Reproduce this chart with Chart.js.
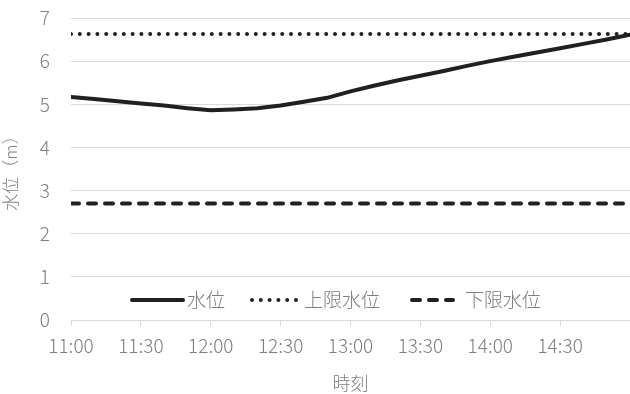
<!DOCTYPE html>
<html>
<head>
<meta charset="utf-8">
<script src="https://cdn.jsdelivr.net/npm/chart.js@4"></script>
<style>
  html, body { margin: 0; padding: 0; background: #fff; }
  #wrap { width: 630px; height: 394px; }
</style>
</head>
<body>
<div id="wrap"><canvas id="levelChart" width="630" height="394"></canvas></div>
<script>
const times = ['11:00', '11:10', '11:20', '11:30', '11:40', '11:50', '12:00', '12:10', '12:20',
  '12:30', '12:40', '12:50', '13:00', '13:10', '13:20', '13:30', '13:40', '13:50',
  '14:00', '14:10', '14:20', '14:30', '14:40', '14:50', '15:00'];
const waterLevel = [5.17, 5.12, 5.07, 5.02, 4.97, 4.91, 4.86, 4.88, 4.91,
  4.97, 5.06, 5.15, 5.30, 5.43, 5.55, 5.66, 5.77, 5.89,
  6.00, 6.10, 6.20, 6.30, 6.40, 6.50, 6.61];
const upperLimit = 6.63;
const lowerLimit = 2.7;
const seriesNames = ['水位', '上限水位', '下限水位'];
const yTicks = [0, 1, 2, 3, 4, 5, 6, 7];

const FONT = "'Noto Sans CJK JP', 'Noto Sans', sans-serif";
const TEXT = '#7f7f7f';
const GRID = '#d9d9d9';

const toMin = t => {
  const [h, m] = t.split(':').map(Number);
  return (h - 11) * 60 + m;
};
const toLabel = v => {
  const h = 11 + Math.floor(v / 60);
  const m = v % 60;
  return h + ':' + String(m).padStart(2, '0');
};

const xStart = toMin(times[0]);
const xEnd = toMin(times[times.length - 1]);

// legend drawn inside the plot, above the x axis
const innerLegend = {
  id: 'innerLegend',
  afterDraw(chart) {
    const ctx = chart.ctx;
    const y = 300;
    const items = [
      { ds: 0, x1: 132, x2: 183, tx: 187 },
      { ds: 1, x1: 252, x2: 298, tx: 304 },
      { ds: 2, x1: 412, x2: 453, tx: 465 }
    ];
    ctx.save();
    items.forEach(it => {
      const ds = chart.data.datasets[it.ds];
      ctx.beginPath();
      ctx.strokeStyle = ds.borderColor;
      ctx.lineWidth = ds.borderWidth;
      ctx.lineCap = ds.borderCapStyle || 'butt';
      ctx.setLineDash(ds.borderDash || []);
      ctx.moveTo(it.x1, y);
      ctx.lineTo(it.x2, y);
      ctx.stroke();
      ctx.setLineDash([]);
      ctx.fillStyle = TEXT;
      ctx.font = '300 19px ' + FONT;
      ctx.textBaseline = 'middle';
      ctx.textAlign = 'left';
      ctx.fillText(ds.label, it.tx, y);
    });
    ctx.restore();
  }
};

new Chart(document.getElementById('levelChart'), {
  type: 'line',
  data: {
    datasets: [
      {
        label: seriesNames[0],
        data: times.map((t, i) => ({ x: toMin(t), y: waterLevel[i] })),
        borderColor: '#231f20',
        borderWidth: 4,
        borderCapStyle: 'round',
        pointRadius: 0,
        tension: 0
      },
      {
        label: seriesNames[1],
        data: [{ x: xStart, y: upperLimit }, { x: xEnd, y: upperLimit }],
        borderColor: '#231f20',
        borderWidth: 4,
        borderDash: [0, 8.8],
        borderCapStyle: 'round',
        pointRadius: 0
      },
      {
        label: seriesNames[2],
        data: [{ x: xStart, y: lowerLimit }, { x: xEnd, y: lowerLimit }],
        borderColor: '#231f20',
        borderWidth: 4,
        borderDash: [8, 9],
        borderCapStyle: 'round',
        pointRadius: 0
      }
    ]
  },
  options: {
    responsive: false,
    animation: false,
    layout: { padding: { top: 18, right: 0, left: 0, bottom: 0 } },
    plugins: {
      legend: { display: false },
      tooltip: { enabled: false }
    },
    scales: {
      x: {
        type: 'linear',
        min: xStart,
        max: xEnd,
        afterFit: s => { s.height = 74; s.paddingLeft = 0; s.paddingRight = 0; },
        afterBuildTicks: s => { s.ticks = times.filter(t => toMin(t) % 30 === 0).map(t => ({ value: toMin(t) })); },
        ticks: {
          font: { family: FONT, size: 19, weight: 300 },
          color: TEXT,
          padding: 8,
          maxRotation: 0,
          callback: v => (v === xEnd ? '' : toLabel(v))
        },
        grid: { display: true, drawOnChartArea: false, color: GRID, tickLength: 6 },
        border: { color: GRID },
        title: {
          display: true,
          text: '時刻',
          font: { family: FONT, size: 18, weight: 300 },
          color: TEXT,
          padding: { top: 0, bottom: 0 }
        }
      },
      y: {
        min: yTicks[0],
        max: yTicks[yTicks.length - 1],
        afterFit: s => { s.width = 71; s.paddingTop = 0; s.paddingBottom = 0; },
        afterBuildTicks: s => { s.ticks = yTicks.map(v => ({ value: v })); },
        ticks: {
          font: { family: FONT, size: 19, weight: 300 },
          color: TEXT,
          padding: 21
        },
        grid: { color: GRID, drawTicks: false },
        border: { display: false },
        title: {
          display: true,
          text: '水位（m）',
          font: { family: FONT, size: 17, weight: 300 },
          color: TEXT,
          padding: 0
        }
      }
    }
  },
  plugins: [innerLegend]
});
</script>
</body>
</html>
